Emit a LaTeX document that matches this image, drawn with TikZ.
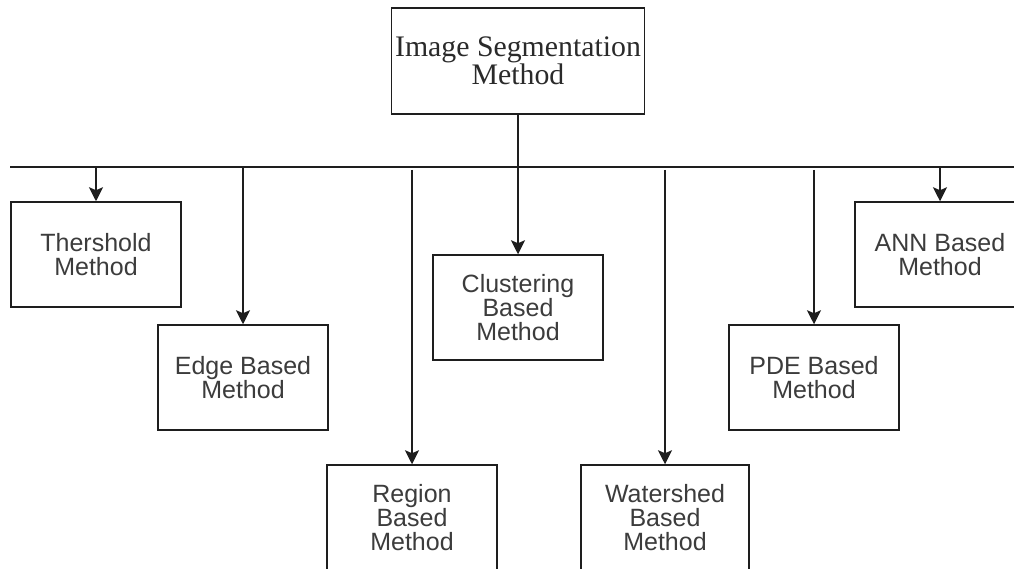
\documentclass[tikz,border=0pt]{standalone}
\usepackage{fontspec}
\setmainfont{Liberation Serif}
\setsansfont{Liberation Sans}
\usetikzlibrary{arrows.meta}
\definecolor{linec}{HTML}{1E1E1E}
\definecolor{textc}{HTML}{3C3C3C}
\definecolor{titlec}{HTML}{2A2A2A}
\tikzset{
  box/.style={draw=linec, line width=1.5pt, minimum width=170pt, minimum height=105pt,
    inner sep=0pt, align=center, text=textc, font=\sffamily\fontsize{25}{24}\selectfont},
  titlebox/.style={box, minimum width=253pt, minimum height=106pt, text=titlec,
    font=\rmfamily\fontsize{29.8}{26}\selectfont},
  conn/.style={draw=linec, line width=1.5pt},
  arr/.style={conn, -{Stealth[length=14pt,width=14pt,inset=3pt]}}
}
\begin{document}
\begin{tikzpicture}[x=1pt,y=-1pt]
\useasboundingbox (0,0) rectangle (1014,569);
\clip (0,0) rectangle (1014,569);
\fill[white] (0,0) rectangle (1014,569);
% nodes
\node[titlebox] (top) at (518,61) {Image Segmentation\\Method};
\node[box] (thr) at (96,254.5) {Thershold\\Method};
\node[box] (edge) at (243,377.5) {Edge Based\\Method};
\node[box] (clus) at (518,307.5) {Clustering\\Based\\Method};
\node[box] (region) at (412,517.5) {Region\\Based\\Method};
\node[box, minimum width=168pt] (water) at (665,517.5) {Watershed\\Based\\Method};
\node[box] (pde) at (814,377.5) {PDE Based\\Method};
\node[box] (ann) at (940,254.5) {ANN Based\\Method};
% bus
\coordinate (busL) at (10,167);
\coordinate (busR) at (1020,167);
\coordinate (bThr) at (96,167);
\coordinate (bEdge) at (243,167);
\coordinate (bRegion) at (412,170);
\coordinate (bWater) at (665,170);
\coordinate (bPde) at (814,170);
\coordinate (bAnn) at (940,167);
\draw[conn] (busL) -- (busR);
% connectors
\draw[arr] (top.south) -- (clus.north);
\draw[arr] (bThr) -- (thr.north);
\draw[arr] (bEdge) -- (edge.north);
\draw[arr] (bRegion) -- (region.north);
\draw[arr] (bWater) -- (water.north);
\draw[arr] (bPde) -- (pde.north);
\draw[arr] (bAnn) -- (ann.north);
\end{tikzpicture}
\end{document}
